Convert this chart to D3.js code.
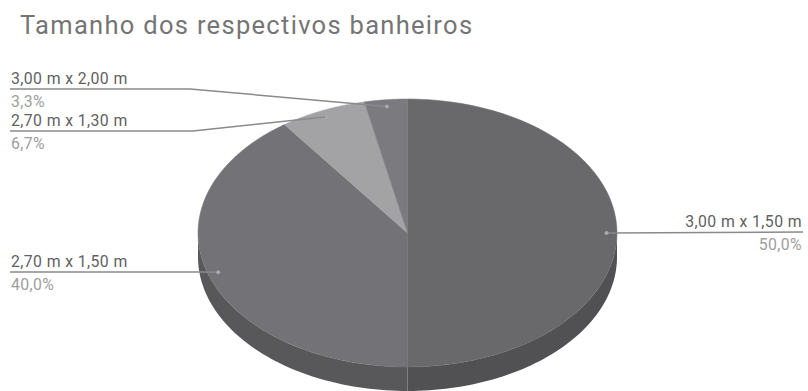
<!DOCTYPE html>
<html><head><meta charset="utf-8">
<script src="https://cdn.jsdelivr.net/npm/d3@7/dist/d3.min.js"></script>
<style>body{margin:0;background:#fff;}svg{display:block;font-family:Roboto,sans-serif;}</style>
</head><body><svg id="c" width="808" height="391"></svg>
<script>
const title = "Tamanho dos respectivos banheiros";
const categories = ["3,00 m x 1,50 m", "2,70 m x 1,50 m", "2,70 m x 1,30 m", "3,00 m x 2,00 m"];
const values = [50.0, 40.0, 6.7, 3.3];
const topColors = ["#69696b", "#737377", "#a3a3a6", "#7b7b7f"];
const sideColors = ["#515153", "#58585a", "#7a7a7c", "#5e5e60"];

const svg = d3.select("#c");
const cx = 407.5, cy = 233, rx = 209.5, ry = 134, depth = 24;
const pt = (a, f = 1, dy = 0) => [cx + rx * f * Math.sin(a), cy + dy - ry * f * Math.cos(a)];

const arcs = d3.pie().sort(null).startAngle(0).endAngle(2 * Math.PI)(values);
const line = d3.line();
const sample = (a0, a1, dy) => d3.range(0, 61).map(i => pt(a0 + (a1 - a0) * i / 60, 1, dy));

// sides (front half only)
arcs.forEach((d, i) => {
  const a0 = Math.max(d.startAngle, Math.PI / 2), a1 = Math.min(d.endAngle, 3 * Math.PI / 2);
  if (a1 <= a0) return;
  const pts = sample(a0, a1, 0).concat(sample(a1, a0, depth));
  svg.append("path").attr("d", line(pts) + "Z").attr("fill", sideColors[i]);
});
// tops
arcs.forEach((d, i) => {
  const pts = [[cx, cy]].concat(sample(d.startAngle, d.endAngle, 0));
  svg.append("path").attr("d", line(pts) + "Z").attr("fill", topColors[i])
    .attr("stroke", topColors[i]).attr("stroke-width", 0.5);
});

svg.append("text").attr("x", 20).attr("y", 34).attr("font-size", 25.5)
  .attr("letter-spacing", 1.3).attr("fill", "#757575").text(title);

const pctFmt = v => d3.format(".1f")(v).replace(".", ",") + "%";
const layout = [
  {side: "right", y: 232, x0: 803},
  {side: "left", y: 272, x1: 205},
  {side: "left", y: 131, x1: 193},
  {side: "left", y: 89, x1: 190}
];
const fs = 15.8, ls = 0.4;
arcs.forEach((d, i) => {
  const mid = (d.startAngle + d.endAngle) / 2;
  const p = pt(mid, 0.95);
  const L = layout[i];
  const g = svg.append("g");
  if (L.side === "right") {
    g.append("path").attr("d", line([p, [L.x0, L.y]])).attr("stroke", "#8a8a8c").attr("stroke-width", 1.5).attr("fill", "none");
    g.append("text").attr("x", 802).attr("y", L.y - 5).attr("text-anchor", "end").attr("font-size", fs).attr("letter-spacing", ls).attr("fill", "#5f5f61").text(categories[i]);
    g.append("text").attr("x", 802).attr("y", L.y + 18).attr("text-anchor", "end").attr("font-size", fs).attr("letter-spacing", ls).attr("fill", "#9e9e9e").text(pctFmt(d.data));
  } else {
    g.append("path").attr("d", line([[10, L.y], [L.x1, L.y], p])).attr("stroke", "#8a8a8c").attr("stroke-width", 1.5).attr("fill", "none");
    g.append("text").attr("x", 11).attr("y", L.y - 5).attr("font-size", fs).attr("letter-spacing", ls).attr("fill", "#5f5f61").text(categories[i]);
    g.append("text").attr("x", 11).attr("y", L.y + 18).attr("font-size", fs).attr("letter-spacing", ls).attr("fill", "#9e9e9e").text(pctFmt(d.data));
  }
  g.append("circle").attr("cx", p[0]).attr("cy", p[1]).attr("r", 2).attr("fill", "#a8a8aa");
});
</script></body></html>
